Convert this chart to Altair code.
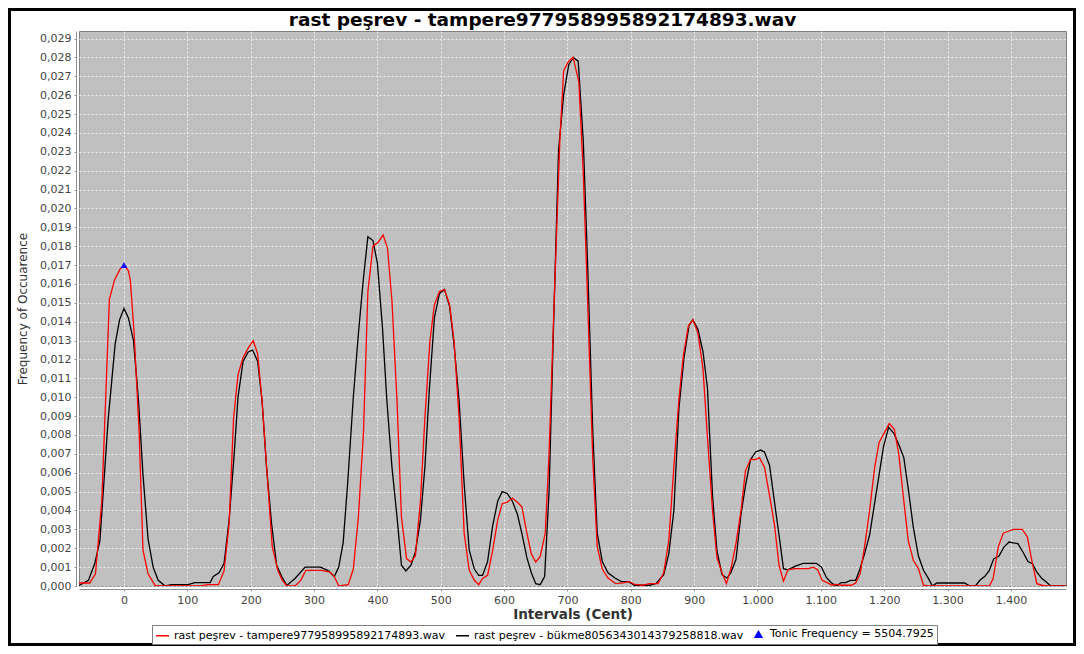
import altair as alt
import pandas as pd

# ---- data ----
chart_title = "rast peşrev - tampere977958995892174893.wav"
red_name = "rast peşrev - tampere977958995892174893.wav"
black_name = "rast peşrev - bükme8056343014379258818.wav"
tonic_name = "Tonic Frequency = 5504.7925"
series_names = [red_name, black_name, tonic_name]
series_colors = ["#ff0000", "#000000", "#0000ff"]

red_cents = [-71, -54, -45, -35, -23, -15, -6, 0, 7, 10, 16, 24, 30, 38, 49, 59, 70, 100, 120,
             133, 149, 158, 166, 173, 180, 188, 196, 204, 211, 218, 227, 234, 243, 250, 257, 270,
             279, 287, 312, 325, 332, 339, 354, 362, 370, 378, 385, 393, 401, 409, 416, 423, 431,
             438, 446, 453, 460, 468, 475, 483, 490, 498, 506, 514, 521, 529, 537, 545, 553, 560,
             566, 574, 582, 590, 597, 605, 613, 621, 628, 636, 643, 650, 657, 665, 671, 679, 688,
             694, 702, 709, 718, 725, 732, 740, 747, 755, 764, 776, 788, 798, 806, 819, 830, 843,
             852, 860, 868, 876, 883, 891, 898, 906, 914, 921, 929, 936, 944, 951, 958, 966, 974,
             981, 989, 997, 1003, 1011, 1019, 1027, 1034, 1041, 1048, 1059, 1080, 1088, 1095, 1102,
             1110, 1118, 1125, 1133, 1148, 1155, 1162, 1169, 1177, 1185, 1192, 1200, 1208, 1216,
             1223, 1231, 1238, 1246, 1254, 1262, 1270, 1366, 1372, 1380, 1388, 1396, 1404, 1418,
             1426, 1433, 1441, 1449, 1455, 1487]
red_vals = [0.00016, 0.00016, 0.00065, 0.0045, 0.0152, 0.0162, 0.0168, 0.0170, 0.0167, 0.0162,
            0.0134, 0.0081, 0.0019, 0.00065, 0.00003, 0.0, 0.0, 0.0, 0.0,
            0.00007, 0.00007, 0.0008, 0.0033, 0.0089, 0.0112, 0.0121, 0.0126, 0.0130, 0.0123,
            0.0098, 0.0054, 0.0021, 0.0008, 0.0003, 0.0, 0.0,
            0.0003, 0.00083, 0.00083, 0.00074, 0.0005, 0.0, 0.00007, 0.0009, 0.00365, 0.0081,
            0.0156, 0.0180, 0.0182, 0.0186, 0.0179, 0.0151, 0.0098,
            0.00365, 0.00145, 0.00127, 0.0016, 0.0045, 0.0089, 0.0130, 0.0149, 0.0156, 0.0157,
            0.0149, 0.0130, 0.0089, 0.0028, 0.00083, 0.0003, 0.00007,
            0.0004, 0.00056, 0.0019, 0.0035, 0.00436, 0.00444, 0.00466, 0.00444, 0.0042, 0.0028,
            0.0017, 0.00127, 0.00157, 0.0028, 0.0070, 0.0150, 0.0236,
            0.0273, 0.0278, 0.0280, 0.0267, 0.0219, 0.0150, 0.0067, 0.0021, 0.0009, 0.00042,
            0.00013, 0.00017, 0.00023, 0.00008, 0.00004, 0.00013, 0.00013,
            0.0007, 0.0024, 0.0063, 0.0099, 0.0122, 0.0138, 0.0141, 0.0134, 0.0115, 0.0079,
            0.0040, 0.0015, 0.0007, 0.00013, 0.0009, 0.00225, 0.0040,
            0.0061, 0.0067, 0.0067, 0.0068, 0.0063, 0.0048, 0.0032, 0.0011, 0.00025, 0.00086,
            0.00092, 0.00092, 0.0010, 0.00086, 0.0003,
            0.00018, 0.00004, 0.00009, 0.00004, 0.00004, 0.00016, 0.00065, 0.00206, 0.0040,
            0.0063, 0.0076, 0.0081, 0.0086, 0.0083,
            0.0070, 0.0045, 0.0024, 0.00136, 0.00092, 0.00004, 0.0, 0.0, 0.00039, 0.00206, 0.0028,
            0.0029, 0.0030, 0.0030,
            0.0026, 0.00136, 0.00012, 0.00004, 0.0, 0.0]

black_cents = [-71, -56, -46, -38, -25, -14, -7, 0, 7, 15, 23, 30, 38, 46, 54, 65, 75, 101, 112,
               136, 141, 150, 158, 166, 174, 180, 188, 196, 203, 211, 218, 225, 233, 241, 249, 257,
               270, 286, 310, 323, 332, 339, 346, 353, 362, 370, 378, 385, 393, 400, 408, 415, 423,
               431, 438, 445, 453, 460, 468, 475, 482, 490, 498, 506, 514, 521, 529, 537, 545, 553,
               560, 566, 574, 582, 590, 597, 605, 613, 621, 628, 636, 643, 650, 657, 664, 671, 678,
               686, 694, 702, 709, 717, 725, 732, 740, 747, 755, 764, 775, 785, 796, 806, 830, 840,
               852, 860, 868, 876, 884, 892, 898, 906, 914, 921, 929, 936, 944, 952, 958, 966, 974,
               981, 989, 997, 1005, 1011, 1019, 1027, 1035, 1041, 1048, 1059, 1072, 1093, 1101,
               1109, 1117, 1125, 1132, 1139, 1147, 1155, 1161, 1169, 1177, 1184, 1192, 1199, 1207,
               1215, 1223, 1231, 1239, 1246, 1254, 1262, 1270, 1276, 1283, 1327, 1335, 1344, 1351,
               1359, 1366, 1373, 1381, 1389, 1397, 1404, 1411, 1419, 1427, 1434, 1441, 1449, 1456,
               1463, 1487]
black_vals = [0.00003, 0.0003, 0.0012, 0.0024, 0.0088, 0.0128, 0.0141, 0.0147, 0.0142, 0.0130,
              0.0098, 0.0059, 0.0025, 0.0010, 0.0003, 0.0, 0.00007, 0.00007, 0.00018,
              0.00018, 0.0005, 0.0007, 0.0012, 0.0035, 0.0070, 0.0100, 0.0119, 0.0124, 0.0125,
              0.0119, 0.0098, 0.0063, 0.0033, 0.0011, 0.0005, 0.00003,
              0.0004, 0.0010, 0.0010, 0.0008, 0.0005, 0.0010, 0.0023, 0.0054, 0.0100, 0.01335,
              0.0163, 0.0185, 0.0183, 0.0171, 0.0137, 0.0098, 0.0063,
              0.00365, 0.0011, 0.0008, 0.0011, 0.0018, 0.0035, 0.0063, 0.0104, 0.0142, 0.0155,
              0.0157, 0.0148, 0.0128, 0.0098, 0.0054, 0.0019, 0.0009,
              0.00056, 0.00056, 0.0013, 0.0032, 0.0045, 0.0050, 0.0049, 0.0045, 0.0038, 0.0028,
              0.0015, 0.0007, 0.00012, 0.00007, 0.0005, 0.0050, 0.0137,
              0.0231, 0.0260, 0.0276, 0.0280, 0.0278, 0.0236, 0.0169, 0.0082, 0.0028, 0.0013,
              0.0007, 0.00042, 0.00023, 0.00023, 0.00004, 0.00004, 0.00013,
              0.0006, 0.0017, 0.0040, 0.0094, 0.0121, 0.0138, 0.0141, 0.0136, 0.0124, 0.0105,
              0.0048, 0.00187, 0.0006, 0.00042, 0.0007, 0.0014, 0.0038,
              0.0053, 0.0067, 0.0071, 0.0072, 0.0071, 0.0064, 0.0044, 0.00245, 0.00092, 0.00086,
              0.00104, 0.0012, 0.0012, 0.0010,
              0.00044, 0.00016, 0.0, 0.00018, 0.00018, 0.0003, 0.0003, 0.00083, 0.0017, 0.0027,
              0.0042, 0.0059, 0.0074, 0.0084,
              0.0081, 0.0075, 0.0068, 0.0049, 0.0031, 0.0016, 0.00083, 0.00039, 0.0, 0.00016,
              0.00016, 0.0, 0.0, 0.0003,
              0.00051, 0.00083, 0.00145, 0.00157, 0.00206, 0.00233, 0.00228, 0.00224, 0.0018,
              0.0013, 0.00118, 0.00074, 0.00039, 0.00021,
              0.0, 0.0]

tonic_cent = [0]
tonic_val = [0.0170]

x_ticks = [0, 100, 200, 300, 400, 500, 600, 700, 800, 900, 1000, 1100, 1200, 1300, 1400]
y_ticks = [i / 1000 for i in range(30)]

# ---- tables ----
red_df = pd.DataFrame({"cent": red_cents, "freq": red_vals, "series": red_name})
black_df = pd.DataFrame({"cent": black_cents, "freq": black_vals, "series": black_name})
tonic_df = pd.DataFrame({"cent": tonic_cent, "freq": tonic_val, "series": tonic_name})
title_df = pd.DataFrame({"label": [chart_title]})

W, H = 987, 555
PAD = {"left": 71, "top": 23, "right": 10, "bottom": 60}
FRAME_W = 3

x_enc = alt.X(
    "cent:Q",
    scale=alt.Scale(domain=[-71, 1487], nice=False, zero=False),
    axis=alt.Axis(
        values=x_ticks,
        labelExpr="replace(format(datum.value, ','), ',', '.')",
        title="Intervals (Cent)",
        titleFontSize=13.5,
        titleFontWeight="bold",
        titleColor="#333333",
        titlePadding=2,
        offset=3,
        tickSize=2,
        labelPadding=3,
    ),
)
y_enc = alt.Y(
    "freq:Q",
    scale=alt.Scale(domain=[0, 0.0294], nice=False, zero=True),
    axis=alt.Axis(
        values=y_ticks,
        labelExpr="replace(format(datum.value, '.3f'), '.', ',')",
        title="Frequency of Occuarence",
        titleFontSize=12,
        titleFontWeight="normal",
        titleColor="#333333",
        titleX=-54,
        titleY=H / 2,
        titleBaseline="middle",
        titleAlign="center",
        offset=3,
        tickSize=2,
        labelPadding=3,
    ),
)

legend = alt.Legend(
    title=None,
    orient="none",
    legendX=73,
    legendY=594,
    direction="horizontal",
    columns=3,
    strokeColor="#808080",
    fillColor="#ffffff",
    padding=3,
    labelFont="DejaVu Sans",
    labelFontSize=11,
    labelColor="#000000",
    labelOffset=4,
    labelLimit=0,
    columnPadding=7,
    symbolSize=169,
    symbolStrokeWidth=1.5,
)
color_enc = alt.Color(
    "series:N",
    scale=alt.Scale(domain=series_names, range=series_colors),
    legend=legend,
)
shape_enc = alt.Shape(
    "series:N",
    scale=alt.Scale(domain=series_names, range=["stroke", "stroke", "triangle-up"]),
    legend=legend,
)
size_enc = alt.Size(
    "series:N",
    scale=alt.Scale(type="ordinal", domain=series_names, range=[169, 169, 45]),
    legend=legend,
)

black_line = alt.Chart(black_df).mark_line(strokeWidth=1.3, clip=True).encode(
    x=x_enc, y=y_enc, color=color_enc
)
red_line = alt.Chart(red_df).mark_line(strokeWidth=1.3, clip=True).encode(
    x=x_enc, y=y_enc, color=color_enc
)
tonic_pt = alt.Chart(tonic_df).mark_point(filled=True, opacity=1).encode(
    x=x_enc, y=y_enc, color=color_enc, shape=shape_enc, size=size_enc
)

frame = alt.Chart(pd.DataFrame({"k": [0]})).mark_rect(
    filled=False, stroke="#000000", strokeWidth=FRAME_W, clip=False
).encode(
    x=alt.value(-PAD["left"] + FRAME_W / 2),
    x2=alt.value(W + PAD["right"] - FRAME_W / 2),
    y=alt.value(-PAD["top"] + FRAME_W / 2),
    y2=alt.value(H + PAD["bottom"] - FRAME_W / 2),
)

title_txt = alt.Chart(title_df).mark_text(
    font="DejaVu Sans", fontSize=18.5, fontWeight="bold", color="#000000",
    align="center", baseline="alphabetic", clip=False,
).encode(
    text="label:N",
    x=alt.value(W / 2 - 30),
    y=alt.value(-5),
)

chart = alt.layer(black_line, red_line, tonic_pt, frame, title_txt).properties(
    width=W,
    height=H,
    autosize=alt.AutoSizeParams(type="none"),
    padding=PAD,
    background="#ffffff",
).configure_view(
    fill="#c0c0c0", stroke="#808080", strokeWidth=1
).configure_axis(
    grid=True,
    gridColor="#ffffff",
    gridDash=[2, 2],
    gridWidth=0.8,
    gridOpacity=0.9,
    domainColor="#909090",
    tickColor="#909090",
    labelColor="#444444",
    labelFont="DejaVu Sans",
    labelFontSize=11,
    titleFont="DejaVu Sans",
)

chart.save("out.html", embed_options={"renderer": "svg", "actions": False})
